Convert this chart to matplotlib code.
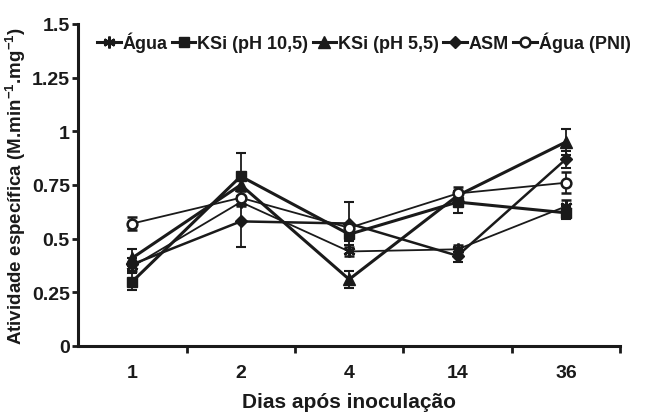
import matplotlib
matplotlib.use("Agg")
import matplotlib.pyplot as plt
from matplotlib.lines import Line2D
from matplotlib import font_manager as fm
import numpy as np

plt.rcParams['font.family'] = ['Liberation Sans', 'DejaVu Sans']
plt.rcParams['font.weight'] = 'bold'
plt.rcParams['mathtext.fontset'] = 'custom'
plt.rcParams['mathtext.rm'] = 'Liberation Sans:bold'
plt.rcParams['mathtext.bf'] = 'Liberation Sans:bold'
plt.rcParams['mathtext.default'] = 'bf'

bold_file = None
for f in fm.findSystemFonts():
    name = f.split('/')[-1]
    if name == 'LiberationSans-Bold.ttf':
        bold_file = f
        break
if bold_file is None:
    bold_file = fm.findfont(fm.FontProperties(family='Liberation Sans', weight='bold'))

def bp(size):
    return fm.FontProperties(fname=bold_file, size=size)

days = ["1", "2", "4", "14", "36"]
series_names = ["Água", "KSi (pH 10,5)", "KSi (pH 5,5)", "ASM", "Água (PNI)"]

agua = [0.37, 0.67, 0.44, 0.45, 0.65]
agua_err = [0.02, 0.02, 0.02, 0.02, 0.03]
ksi105 = [0.30, 0.79, 0.52, 0.67, 0.62]
ksi105_err = [0.04, 0.11, 0.03, 0.05, 0.03]
ksi55 = [0.41, 0.75, 0.31, 0.70, 0.95]
ksi55_err = [0.04, 0.03, 0.04, 0.02, 0.06]
asm = [0.38, 0.58, 0.57, 0.42, 0.87]
asm_err = [0.03, 0.12, 0.10, 0.03, 0.04]
pni = [0.57, 0.69, 0.55, 0.71, 0.76]
pni_err = [0.03, 0.03, 0.02, 0.03, 0.05]

K = '#1a1a1a'
fig = plt.figure(figsize=(6.46, 4.14), dpi=100)
ax = fig.add_axes([0.121, 0.162, 0.839, 0.778])

x = np.arange(len(days))
styles = [
    (agua, agua_err, dict(marker=(6, 2, 0), ms=8.5, mew=1.8, lw=1.3, mfc=K)),
    (ksi105, ksi105_err, dict(marker='s', ms=7, lw=2.2, mfc=K)),
    (ksi55, ksi55_err, dict(marker='^', ms=8, lw=2.2, mfc=K)),
    (asm, asm_err, dict(marker='D', ms=6, lw=1.8, mfc=K)),
    (pni, pni_err, dict(marker='o', ms=7, lw=1.3, mfc='white', mew=1.8)),
]
handles = []
for (vals, err, st), name in zip(styles, series_names):
    ax.errorbar(x, vals, yerr=err, color=K, mec=K,
                capsize=3.5, elinewidth=1.3, capthick=1.5, **st)
    hs = dict(st)
    hs['lw'] = 2.2
    handles.append(Line2D([], [], color=K, mec=K, label=name, **hs))

ax.set_xlim(-0.5, 4.5)
ax.set_ylim(0, 1.5)
ax.set_yticks([0, 0.25, 0.5, 0.75, 1, 1.25, 1.5])
ax.set_yticklabels(["0", "0.25", "0.5", "0.75", "1", "1.25", "1.5"])
ax.set_xticks(np.arange(0.5, 4.6, 1.0))
ax.set_xticklabels([])
ax.set_xticks(x, minor=True)
ax.set_xticklabels(days, minor=True)
ax.tick_params(axis='x', which='major', direction='out', length=5, width=2, color=K)
ax.tick_params(axis='x', which='minor', length=0, pad=13)
ax.tick_params(axis='y', direction='out', length=4, width=2, color=K, pad=2)
for lab in ax.get_xticklabels(minor=True) + ax.get_yticklabels():
    lab.set_fontproperties(bp(14))
    lab.set_color(K)

for s in ['top', 'right']:
    ax.spines[s].set_visible(False)
for s in ['left', 'bottom']:
    ax.spines[s].set_linewidth(2.2)
    ax.spines[s].set_color(K)

ax.set_xlabel("Dias após inoculação", fontproperties=bp(15), color=K, labelpad=8)
ax.set_ylabel(r"Atividade específica (M.min$^{-1}$.mg$^{-1}$)", fontproperties=bp(13.5),
              color=K, labelpad=3)

leg = ax.legend(handles=handles, loc='center left', bbox_to_anchor=(0.035, 0.944), ncol=5,
                frameon=False, handlelength=1.3, handletextpad=0.1,
                columnspacing=0.25, borderaxespad=0.0, borderpad=0.0,
                prop=bp(13))
for t in leg.get_texts():
    t.set_color(K)

fig.savefig("out.png", dpi=100)
